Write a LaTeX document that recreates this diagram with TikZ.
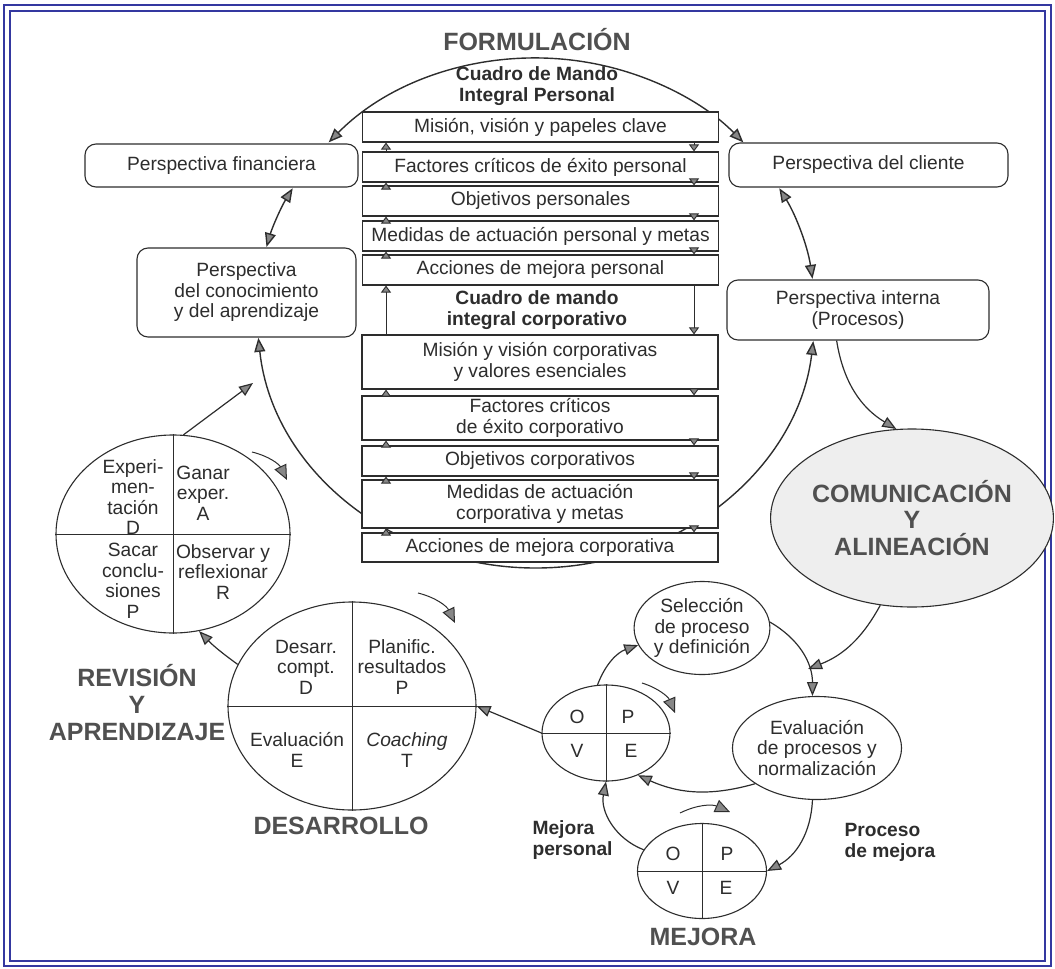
\documentclass[tikz,border=0pt]{standalone}
\usepackage{fontspec}
\setmainfont{Liberation Sans}
\usetikzlibrary{arrows.meta,shapes.geometric}
\definecolor{marco}{RGB}{52,56,160}
\definecolor{tinta}{RGB}{45,45,45}
\definecolor{punta}{RGB}{135,135,135}
\definecolor{gristitulo}{RGB}{80,80,80}
\definecolor{fondo}{RGB}{238,238,238}

\begin{document}
\begin{tikzpicture}[x=1pt,y=-1pt,
		font=\fontsize{19.2}{20.5}\selectfont, text=tinta,
		>={Triangle[length=14pt,width=11pt,fill=punta]},
		fila/.style={draw=tinta,fill=white,line width=1.1pt,minimum width=356pt,inner sep=0pt,align=center},
		persp/.style={draw=tinta,fill=white,line width=1.1pt,rounded corners=11pt,inner sep=0pt,align=center},
		ovalo/.style={ellipse,draw=tinta,fill=white,line width=1.1pt,inner sep=0pt,align=center},
		titulo/.style={font=\fontsize{25}{27}\selectfont\bfseries,text=gristitulo,align=center},
		negrita/.style={font=\fontsize{19.2}{21}\selectfont\bfseries,align=center},
		arco/.style={draw=tinta,line width=1.4pt},
		flecha/.style={draw=tinta,line width=1.2pt,->},
		paso/.style={draw=tinta,line width=0.9pt,-{Triangle[length=7pt,width=10pt,fill=punta]}},
		giro/.style={draw=tinta,line width=1pt,-{Triangle[length=15pt,width=13pt,fill=punta]}}]
	\useasboundingbox (0,0) rectangle (1055,969);
	% Marco
	\draw[marco,line width=2.5pt] (4,5) rectangle (1051,966);
	\draw[marco,line width=1.8pt] (10,11) rectangle (1045,961);

	% Elipse grande
	\draw[arco,<->] (536,313) ++(-138:279 and 255) arc[start angle=-138,end angle=-42,x radius=279,y radius=255];
	\draw[arco,<->] (536,313) ++(-150.7:279 and 255) arc[start angle=-150.7,end angle=-165,x radius=279,y radius=255];
	\draw[arco,<->] (536,313) ++(-29.3:279 and 255) arc[start angle=-29.3,end angle=-7.7,x radius=279,y radius=255];
	\draw[arco,<->] (536,313) ++(174.4:279 and 255) arc[start angle=174.4,end angle=6.3,x radius=279,y radius=255];

	% Formulacion
	\node[titulo] (formu) at (537,40) {FORMULACIÓN};
	\node[negrita] (cmp) at (537,86) {Cuadro de Mando\\Integral Personal};
	\node[fila,minimum height=30pt] (p1) at (540.5,127) {Misión, visión y papeles clave};
	\node[fila,minimum height=30pt] (p2) at (540.5,167) {Factores críticos de éxito personal};
	\node[fila,minimum height=30pt] (p3) at (540.5,201) {Objetivos personales};
	\node[fila,minimum height=30pt] (p4) at (540.5,236) {Medidas de actuación personal y metas};
	\node[fila,minimum height=30pt] (p5) at (540.5,270) {Acciones de mejora personal};
	\node[negrita] (cmc) at (537,310) {Cuadro de mando\\integral corporativo};
	\node[fila,minimum height=54pt] (c1) at (540,362) {Misión y visión corporativas\\y valores esenciales};
	\node[fila,minimum height=44pt] (c2) at (540,418) {Factores críticos\\de éxito corporativo};
	\node[fila,minimum height=30pt] (c3) at (540,461) {Objetivos corporativos};
	\node[fila,minimum height=48pt] (c4) at (540,504) {Medidas de actuación\\corporativa y metas};
	\node[fila,minimum height=29pt] (c5) at (540,547.5) {Acciones de mejora corporativa};
	\coordinate (izq) at (386,0);
	\coordinate (der) at (694,0);
	\foreach \a/\b in {p1/p2,p2/p3,p3/p4,p4/p5,c1/c2,c2/c3,c3/c4,c4/c5}{
		\draw[paso] (izq |- \b.north) -- (izq |- \a.south);
		\draw[paso] (der |- \a.south) -- (der |- \b.north);
	}
	\draw[paso] (izq |- c1.north) -- (izq |- p5.south);
	\draw[paso] (der |- p5.south) -- (der |- c1.north);

	% Perspectivas
	\node[persp,minimum width=273pt,minimum height=43pt] (fin) at (221.5,165.5) {Perspectiva financiera};
	\node[persp,minimum width=219pt,minimum height=89pt] (con) at (246.5,292.5) {Perspectiva\\del conocimiento\\y del aprendizaje};
	\node[persp,minimum width=279pt,minimum height=44pt] (cli) at (868.5,165) {Perspectiva del cliente};
	\node[persp,minimum width=262pt,minimum height=60pt] (int) at (858,310) {Perspectiva interna\\(Procesos)};

	% Comunicacion
	\node[ovalo,fill=fondo,minimum width=226pt,minimum height=178pt,font=\fontsize{25}{26.5}\selectfont\bfseries,text=gristitulo] (com) at (912,518) {COMUNICACIÓN\\Y\\ALINEACIÓN};
	\draw[flecha] (int.235) to[bend right=25] (com.100);

	% Revision y aprendizaje
	\node[ovalo,minimum width=234pt,minimum height=198pt] (rev) at (173,534) {};
	\draw[tinta,line width=1pt] (rev.north) -- (rev.south) (rev.west) -- (rev.east);
	\node[align=center] (exp) at (133,497) {Experi-\\men-\\tación\\D};
	\node[align=center] (gan) at (203,493) {Ganar\\exper.\\A};
	\node[align=center] (sac) at (133,581) {Sacar\\conclu-\\siones\\P};
	\node[align=center] (obs) at (223,572) {Observar y\\reflexionar\\R};
	\node[titulo] (revi) at (137,703) {REVISIÓN\\Y\\APRENDIZAJE};
	\coordinate (hacia) at (253,383);
	\draw[flecha] (rev.84) -- (hacia);
	\draw[giro] (252,452) to[bend left=25] (287,480);

	% Desarrollo
	\node[ovalo,minimum width=248pt,minimum height=208pt] (des) at (352,706) {};
	\draw[tinta,line width=1pt] (des.north) -- (des.south) (des.west) -- (des.east);
	\node[align=center] (dc) at (306,667) {Desarr.\\compt.\\D};
	\node[align=center] (pr) at (402,667) {Planific.\\resultados\\P};
	\node[align=center] (ev) at (297,750) {Evaluación\\E};
	\node[align=center] (co) at (407,750) {\textit{Coaching}\\T};
	\node[titulo] (desa) at (341,826) {DESARROLLO};
	\draw[flecha] (des.160) to[bend left=5] (rev.-75);
	\draw[giro] (418,593) to[bend left=25] (455,623);

	% Mejora
	\node[ovalo,minimum width=131pt,minimum height=93pt] (sel) at (702,628) {Selección\\de proceso\\y definición};
	\node[ovalo,minimum width=130pt,minimum height=103pt] (eva) at (817,748) {Evaluación\\de procesos y\\normalización};
	\node[ovalo,minimum width=128pt,minimum height=96pt] (ope1) at (606,733) {};
	\draw[tinta,line width=1pt] (ope1.north) -- (ope1.south) (ope1.west) -- (ope1.east);
	\node (o1) at (577,717) {O};
	\node (pp1) at (628,717) {P};
	\node (v1) at (577,751) {V};
	\node (e1) at (631,751) {E};
	\node[ovalo,minimum width=129pt,minimum height=95pt] (ope2) at (702,871) {};
	\draw[tinta,line width=1pt] (ope2.north) -- (ope2.south) (ope2.west) -- (ope2.east);
	\node (o2) at (673,854) {O};
	\node (pp2) at (727,854) {P};
	\node (v2) at (673,888) {V};
	\node (e2) at (726,888) {E};
	\node[titulo] (mej) at (703,937) {MEJORA};
	\node[negrita,align=left,anchor=west] (mp) at (529,840) {Mejora\\personal};
	\node[negrita,align=left,anchor=west] (pm) at (841,842) {Proceso\\de mejora};
	\coordinate (cruce) at (808,669);
	\draw[flecha] (com.250) to[bend left=20] (cruce);
	\draw[flecha] (sel.5) to[bend left=30] (eva.95);
	\draw[flecha] (ope1.100) to[bend left=25] (sel.195);
	\draw[flecha] (eva.210) to[bend left=20] (ope1.-53);
	\draw[flecha] (eva.265) to[bend left=30] (ope2.east);
	\draw[flecha] (ope2.160) to[bend left=40] (ope1.south);
	\draw[flecha] (ope1.west) -- (des.east);
	\draw[giro] (642,683) to[bend left=25] (675,713);
	\draw[giro] (680,813) to[bend left=25] (730,812);
\end{tikzpicture}
\end{document}
